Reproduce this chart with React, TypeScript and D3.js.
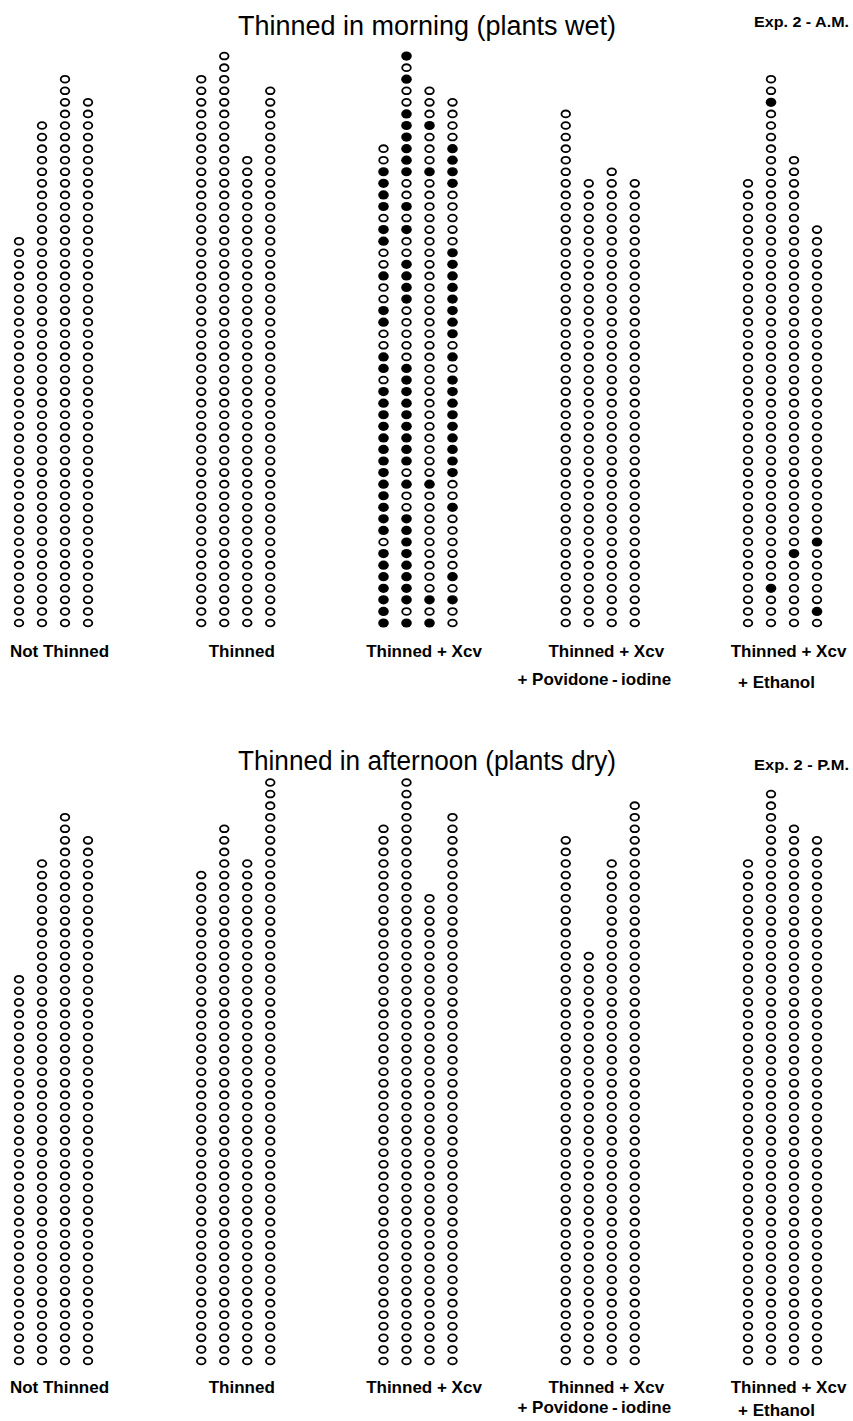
import React from 'react';
import * as d3 from 'd3';

// treatments (one block of 4 rows each)
const treatments = ['Not Thinned', 'Thinned', 'Thinned + Xcv', 'Thinned + Xcv', 'Thinned + Xcv'];
const treatmentsSub = ['', '', '', '+ Povidone\u2009-\u2009iodine', '+ Ethanol'];

// plants per row, morning experiment
const amCounts = [
  [34, 44, 48, 46],
  [48, 50, 41, 47],
  [42, 50, 47, 46],
  [45, 39, 40, 39],
  [39, 48, 41, 35],
];

// plants per row, afternoon experiment
const pmCounts = [
  [34, 44, 48, 46],
  [43, 47, 44, 51],
  [47, 51, 41, 48],
  [46, 36, 44, 49],
  [44, 50, 47, 46],
];

// Thinned + Xcv (A.M.): each row listed top -> bottom, F = diseased, O = healthy
const xcvAmRows = [
  'OOFFFFOFFOOFOOFFOOFFOFFFFFFFFFFFFFOFFFFFFF',
  'FOFOOFFFFFFOOFOFOOFFFFOOOOOFFFFFFFFFOFOOFFFFFFFFOF',
  'OOFOOOFOOOOOOOOOOOOOOOOOOOOOOOOOOFOOOOOOOOOFOF',
  'OOOOFFFFOOOOOFFFFFFFFOFOFFFFFFFFFOOFOOOOOFOFOO',
];

// Thinned + Xcv + Ethanol (A.M.): diseased plants, counted from the bottom
const ethanolAmSick = [[], [3, 45], [6], [1, 7]];

const W = 853;
const H = 1421;
const pitch = 11.57;

const toSick = (rows: string[]) =>
  rows.map(r => r.split('').reverse().map((c, i) => (c === 'F' ? i : -1)).filter(i => i >= 0));

const amSick: number[][][] = [[[], [], [], []], [[], [], [], []], toSick(xcvAmRows), [[], [], [], []], ethanolAmSick];
const pmSick: number[][][] = [0, 1, 2, 3, 4].map(() => [[], [], [], []]);

const panels = [
  { title: 'Thinned in morning (plants wet)', exp: 'Exp. 2 - A.M.', counts: amCounts, sick: amSick, base: 623, titleY: 35, expY: 27, label1: 657, label2: 685, ethDy: 3 },
  { title: 'Thinned in afternoon (plants dry)', exp: 'Exp. 2 - P.M.', counts: pmCounts, sick: pmSick, base: 1361, titleY: 770, expY: 770, label1: 1393, label2: 1413, ethDy: 3 },
];

const groupX = d3.scalePoint<number>().domain(d3.range(5)).range([19, 748]);
const colX = d3.scalePoint<number>().domain(d3.range(4)).range([0, 69]);

const Panel = ({ p }: { p: typeof panels[0] }) => {
  const y = d3.scaleLinear().domain([0, 1]).range([p.base, p.base - pitch]);
  return (
    <g>
      <text x={427} y={p.titleY} textAnchor="middle" fontSize={27} textLength={378} lengthAdjust="spacingAndGlyphs">
        {p.title}
      </text>
      <text x={849} y={p.expY} textAnchor="end" fontSize={15.5} fontWeight="bold" textLength={95} lengthAdjust="spacingAndGlyphs">
        {p.exp}
      </text>
      {p.counts.map((cols, g) => {
        const gx = groupX(g) as number;
        const cx = gx + 34.5;
        return (
          <g key={g}>
            {cols.map((n, c) => {
              const x = gx + (colX(c) as number);
              const sick = new Set(p.sick[g][c]);
              return d3.range(n).map(i =>
                sick.has(i) ? (
                  <ellipse key={`${c}-${i}`} cx={x} cy={y(i)} rx={5.3} ry={4.6} fill="#000" />
                ) : (
                  <ellipse key={`${c}-${i}`} cx={x} cy={y(i)} rx={4.3} ry={3.4} fill="#fff" stroke="#000" strokeWidth={1.8} />
                )
              );
            })}
            <text x={cx + 6} y={p.label1} textAnchor="middle" fontSize={17} fontWeight="bold">
              {treatments[g]}
            </text>
            {treatmentsSub[g] && (
              <text x={cx - 6} y={p.label2 + (g === 4 ? p.ethDy : 0)} textAnchor="middle" fontSize={17} fontWeight="bold">
                {treatmentsSub[g]}
              </text>
            )}
          </g>
        );
      })}
    </g>
  );
};

export default function App() {
  return (
    <svg
      width={W}
      height={H}
      style={{ position: 'absolute', left: 0, top: 0, background: '#fff' }}
      fontFamily="'Liberation Sans', Arial, sans-serif"
    >
      <rect width={W} height={H} fill="#fff" />
      {panels.map((p, k) => (
        <Panel key={k} p={p} />
      ))}
    </svg>
  );
}
